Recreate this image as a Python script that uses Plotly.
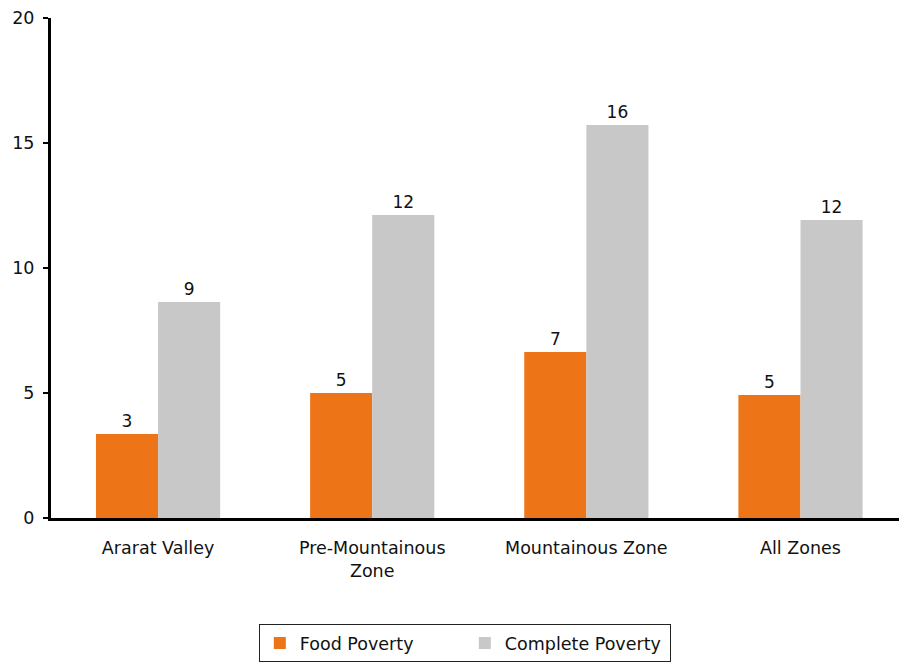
import plotly.graph_objects as go

zones = ["Ararat Valley", "Pre-Mountainous<br>Zone", "Mountainous Zone", "All Zones"]
food_poverty = [3.36, 5.0, 6.64, 4.92]
complete_poverty = [8.64, 12.12, 15.72, 11.92]
y_ticks = [0, 5, 10, 15, 20]

FONT = "DejaVu Sans"
SIZE = 17.5

fig = go.Figure()
fig.add_trace(go.Bar(
    x=zones, y=food_poverty, name="Food Poverty",
    marker=dict(color="#ED7518", line=dict(width=0)),
    texttemplate="%{y:.0f}", textposition="outside", cliponaxis=False,
    textfont=dict(family=FONT, size=17, color="#111"),
))
fig.add_trace(go.Bar(
    x=zones, y=complete_poverty, name="Complete Poverty",
    marker=dict(color="#C8C8C8", line=dict(width=0)),
    texttemplate="%{y:.0f}", textposition="outside", cliponaxis=False,
    textfont=dict(family=FONT, size=17, color="#111"),
))

fig.update_layout(
    width=899, height=669,
    margin=dict(l=51, r=0, t=18, b=151),
    paper_bgcolor="white", plot_bgcolor="white",
    barmode="group", bargap=0.42, bargroupgap=0,
    font=dict(family=FONT, size=SIZE, color="#111"),
    showlegend=True,
    legend=dict(
        orientation="h", x=0.488, xanchor="center", y=-0.212, yanchor="top",
        bordercolor="#222", borderwidth=1, bgcolor="white",
        font=dict(family=FONT, size=SIZE, color="#111"),
        itemwidth=30, tracegroupgap=0, entrywidth=160,
    ),
    xaxis=dict(
        range=[-0.5, 3.46], showgrid=False, zeroline=False,
        showline=True, linecolor="black", linewidth=3,
        ticks="", ticklabelstandoff=12,
        tickfont=dict(family=FONT, size=SIZE, color="#111"),
    ),
    yaxis=dict(
        range=[0, 20], tickvals=y_ticks, showgrid=False, zeroline=False,
        showline=True, linecolor="black", linewidth=3,
        ticks="outside", ticklen=5, tickwidth=2, tickcolor="black",
        ticklabelstandoff=5,
        tickfont=dict(family=FONT, size=SIZE, color="#111"),
    ),
)

fig.write_html("out.html")
